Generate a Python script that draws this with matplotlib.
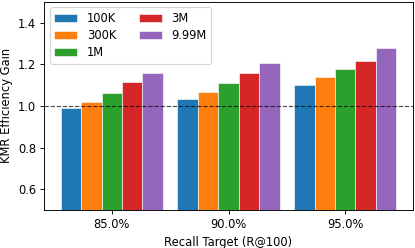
import matplotlib
matplotlib.use("Agg")
import matplotlib.pyplot as plt
import numpy as np

groups = ["85.0%", "90.0%", "95.0%"]
series = ["100K", "300K", "1M", "3M", "9.99M"]
values = {
    "100K": [0.989, 1.033, 1.100],
    "300K": [1.018, 1.065, 1.137],
    "1M": [1.063, 1.110, 1.176],
    "3M": [1.114, 1.157, 1.214],
    "9.99M": [1.156, 1.208, 1.278],
}
colors = ["#1f77b4", "#ff7f0e", "#2ca02c", "#d62728", "#9467bd"]

DPI = 83
fig, ax = plt.subplots(figsize=(415 / DPI, 248 / DPI), dpi=DPI)
x = np.arange(len(groups))
w = 0.175
for i, s in enumerate(series):
    ax.bar(x + (i - 2) * w, values[s], w, label=s, color=colors[i],
           edgecolor="white", linewidth=0.5)
ax.axhline(1.0, color="black", linestyle="--", linewidth=1.0, alpha=0.7)
ax.set_ylim(0.5, 1.5)
ax.set_yticks([0.6, 0.8, 1.0, 1.2, 1.4])
ax.set_xticks(x)
ax.set_xticklabels(groups)
ax.set_xlabel("Recall Target (R@100)")
ax.set_ylabel("KMR Efficiency Gain")
ax.legend(loc="upper left", ncol=2, labelspacing=0.35)
fig.subplots_adjust(left=44 / 415, right=413 / 415, top=1 - 1.7 / 248, bottom=1 - 210 / 248)
fig.savefig("out.png", dpi=DPI)
